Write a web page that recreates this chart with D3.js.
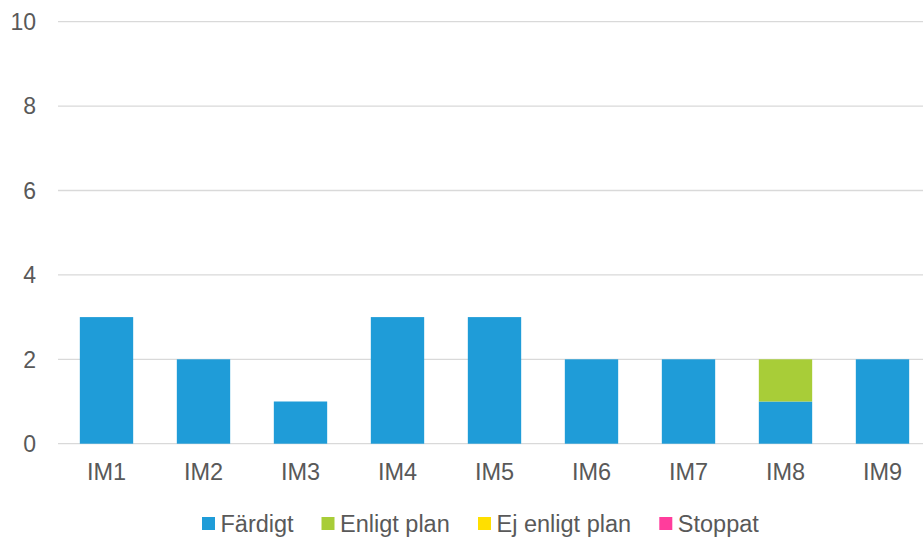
<!DOCTYPE html>
<html>
<head>
<meta charset="utf-8">
<script src="https://cdn.jsdelivr.net/npm/d3@7"></script>
<style>
  html, body { margin: 0; padding: 0; background: #fff; }
  svg { display: block; font-family: "Liberation Sans", Arial, sans-serif; }
</style>
</head>
<body>
<svg id="chart" width="923" height="539"></svg>
<script>
const categories = ["IM1", "IM2", "IM3", "IM4", "IM5", "IM6", "IM7", "IM8", "IM9"];
const seriesNames = ["Färdigt", "Enligt plan", "Ej enligt plan", "Stoppat"];
const fardigt     = [3, 2, 1, 3, 3, 2, 2, 1, 2];
const enligtPlan  = [0, 0, 0, 0, 0, 0, 0, 1, 0];
const ejEnligt    = [0, 0, 0, 0, 0, 0, 0, 0, 0];
const stoppat     = [0, 0, 0, 0, 0, 0, 0, 0, 0];
const yTicks = [0, 2, 4, 6, 8, 10];
const colors = ["#1f9cd8", "#a8cd38", "#ffdf00", "#ff3d9c"];

const seriesValues = [fardigt, enligtPlan, ejEnligt, stoppat];
const rows = categories.map((c, i) => {
  const r = { cat: c };
  seriesNames.forEach((s, k) => r[s] = seriesValues[k][i]);
  return r;
});

const svg = d3.select("#chart");
const x = d3.scaleBand().domain(categories).range([58, 931]).paddingInner(0.45).paddingOuter(0.225);
const y = d3.scaleLinear().domain([0, 10]).range([443.7, 21.7]);

// gridlines
svg.append("g").selectAll("line").data(yTicks).join("line")
  .attr("x1", 58).attr("x2", 923)
  .attr("y1", d => y(d)).attr("y2", d => y(d))
  .attr("stroke", "#d9d9d9").attr("stroke-width", 1.3);

// y labels
svg.append("g").selectAll("text").data(yTicks).join("text")
  .attr("x", 36).attr("y", d => y(d)).attr("dy", "0.36em")
  .attr("text-anchor", "end").attr("font-size", 23).attr("fill", "#595959")
  .text(d => d);

// stacked bars
const stack = d3.stack().keys(seriesNames)(rows);
svg.append("g").selectAll("g").data(stack).join("g")
  .attr("fill", (d, i) => colors[i])
  .selectAll("rect").data(d => d).join("rect")
  .attr("x", d => x(d.data.cat))
  .attr("width", x.bandwidth())
  .attr("y", d => y(d[1]))
  .attr("height", d => y(d[0]) - y(d[1]));

// x labels
svg.append("g").selectAll("text").data(categories).join("text")
  .attr("x", d => x(d) + x.bandwidth() / 2).attr("y", 480)
  .attr("text-anchor", "middle").attr("font-size", 23.5).attr("fill", "#595959")
  .text(d => d);

// legend
const legendX = [202, 321.5, 478, 659.3];
const lg = svg.append("g").selectAll("g").data(seriesNames).join("g")
  .attr("transform", (d, i) => `translate(${legendX[i]},0)`);
lg.append("rect").attr("x", 0).attr("y", 517).attr("width", 13).attr("height", 13)
  .attr("fill", (d, i) => colors[i]);
lg.append("text").attr("x", 18.5).attr("y", 532).attr("font-size", 23.5).attr("fill", "#595959")
  .text(d => d);
</script>
</body>
</html>
